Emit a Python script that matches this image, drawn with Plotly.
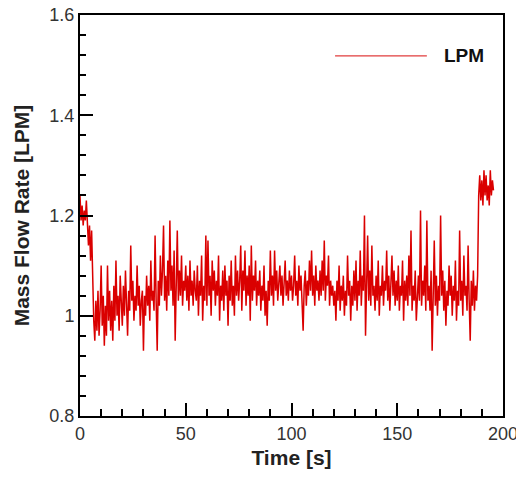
import plotly.graph_objects as go

t_step = 0.5  # sampling interval [s]

flow_lpm = [
    1.24, 1.19, 1.22, 1.18, 1.21, 1.19, 1.23, 1.17, 1.14, 1.18,
    1.11, 1.17, 1.07, 0.99, 0.95, 1.03, 0.97, 1.05, 0.96, 1.01,
    1.10, 0.98, 1.04, 0.94, 1.02, 0.96, 1.10, 0.99, 1.05, 0.97,
    1.03, 0.95, 1.06, 0.99, 1.11, 1.00, 1.04, 0.97, 1.08, 1.01,
    0.98, 1.06, 1.00, 1.09, 1.02, 0.96, 1.05, 1.01, 1.14, 1.03,
    1.07, 0.99, 1.04, 1.01, 1.10, 1.02, 1.06, 0.98, 1.03, 1.05,
    0.93, 1.04, 1.00, 1.08, 1.02, 1.06, 0.99, 1.11, 1.03, 1.05,
    1.01, 1.16, 1.03, 0.93, 1.07, 1.02, 1.12, 1.04, 1.09, 1.18,
    1.03, 1.08, 1.01, 1.11, 1.04, 1.19, 1.05, 1.10, 1.02, 1.13,
    0.95, 1.06, 1.17, 1.03, 1.09, 1.04, 1.12, 1.02, 1.07, 1.05,
    1.10, 1.03, 1.08, 1.01, 1.11, 1.04, 1.07, 1.02, 1.09, 1.05,
    1.03, 1.10, 1.00, 1.07, 1.04, 1.12, 0.99, 1.06, 1.03, 1.16,
    1.02, 1.15, 1.04, 1.08, 1.00, 1.11, 1.05, 1.09, 1.02, 1.07,
    1.04, 1.12, 0.99, 1.06, 1.03, 1.09, 1.01, 1.10, 1.04, 1.07,
    0.98, 1.08, 1.03, 1.11, 1.02, 1.06, 1.00, 1.12, 1.04, 1.09,
    1.03, 1.07, 1.14, 1.01, 1.09, 1.05, 1.13, 1.02, 1.08, 1.04,
    1.10, 0.99, 1.14, 1.03, 1.08, 1.05, 1.11, 1.02, 1.07, 1.04,
    1.09, 1.01, 1.06, 1.03, 1.10, 1.00, 1.05, 0.98, 1.07, 1.03,
    1.13, 1.04, 1.08, 1.02, 1.13, 1.05, 1.09, 1.03, 1.07, 1.10,
    1.04, 1.08, 1.02, 1.06, 1.11, 1.04, 1.07, 1.03, 1.09, 1.05,
    1.08, 1.03, 1.06, 1.12, 1.04, 1.07, 1.02, 1.10, 1.05, 1.08,
    1.03, 0.97, 1.06, 1.09, 1.02, 1.07, 1.04, 1.11, 1.05, 1.13,
    1.04, 1.08, 1.02, 1.10, 1.05, 1.07, 1.03, 1.09, 1.04, 1.11,
    1.05, 1.15, 1.03, 1.08, 1.06, 1.12, 1.02, 1.07, 1.04, 1.06,
    1.02, 1.05, 0.99, 1.07, 1.03, 1.10, 1.01, 1.06, 1.03, 1.08,
    1.00, 1.05, 1.02, 1.12, 1.04, 1.07, 0.99, 1.06, 1.02, 1.09,
    1.03, 1.11, 1.01, 1.07, 1.04, 1.13, 1.02, 1.08, 1.05, 1.20,
    0.96, 1.07, 1.16, 1.03, 1.09, 1.02, 1.14, 1.04, 1.06, 1.01,
    1.08, 1.03, 1.11, 1.00, 1.06, 1.04, 1.10, 1.02, 1.07, 1.05,
    1.13, 1.03, 1.08, 1.01, 1.06, 1.12, 1.04, 1.09, 1.02, 1.07,
    1.03, 1.10, 1.01, 1.06, 1.04, 1.11, 0.99, 1.07, 1.03, 1.08,
    1.02, 1.12, 1.04, 1.17, 1.01, 1.06, 1.03, 1.09, 0.99, 1.05,
    1.08, 1.03, 1.21, 1.02, 1.07, 1.04, 1.10, 1.01, 1.19, 1.03,
    1.06, 1.01, 1.09, 0.93, 1.05, 1.15, 1.02, 1.08, 1.00, 1.06,
    1.03, 1.20, 1.04, 1.09, 1.01, 1.07, 0.98, 1.05, 1.02, 1.10,
    1.04, 1.08, 1.00, 1.06, 1.03, 1.11, 0.99, 1.05, 1.02, 1.17,
    1.03, 1.07, 1.00, 1.12, 1.04, 1.06, 1.01, 1.14, 1.03, 0.95,
    1.07, 1.02, 1.09, 1.01, 1.06, 1.03, 1.08, 1.24, 1.28, 1.23,
    1.27, 1.22, 1.29, 1.24, 1.28, 1.23, 1.26, 1.22, 1.29, 1.24,
    1.27, 1.25,
]
time_s = [i * t_step for i in range(len(flow_lpm))]

x_ticks = [0, 50, 100, 150, 200]
y_ticks = [0.8, 1.0, 1.2, 1.4, 1.6]
y_tick_labels = ["0.8", "1", "1.2", "1.4", "1.6"]

RED = "rgb(218,0,0)"
FONT = "Liberation Sans, Arial, sans-serif"
TICK_FONT = dict(family=FONT, size=18, color="#333")
TITLE_FONT = dict(family=FONT, size=21, color="#222")

fig = go.Figure()
fig.add_trace(go.Scatter(x=time_s, y=flow_lpm, mode="lines", name="LPM",
                         line=dict(color=RED, width=1.5), showlegend=False))

fig.update_xaxes(
    range=[0, 200], tickmode="array", tickvals=x_ticks,
    showgrid=False, zeroline=False, showline=True, linecolor="black",
    linewidth=2, mirror=True, ticks="inside", tickcolor="black",
    tickwidth=1.8, ticklen=13, ticklabeloverflow="allow",
    tickfont=TICK_FONT,
    minor=dict(tickmode="linear", tick0=0, dtick=10, ticks="inside", ticklen=7,
               tickcolor="black", tickwidth=1.5, showgrid=False),
    title=dict(text="<b>Time [s]</b>", font=TITLE_FONT, standoff=8),
)
fig.update_yaxes(
    range=[0.8, 1.6], tickmode="array", tickvals=y_ticks, ticktext=y_tick_labels,
    showgrid=False, zeroline=False, showline=True, linecolor="black",
    linewidth=2, mirror=True, ticks="inside", tickcolor="black",
    tickwidth=1.8, ticklen=13, ticklabeloverflow="allow",
    tickfont=TICK_FONT,
    minor=dict(tickmode="linear", tick0=0.8, dtick=0.04, ticks="inside", ticklen=6,
               tickcolor="black", tickwidth=1.5, showgrid=False),
    title=dict(text="<b>Mass Flow Rate [LPM]</b>", font=TITLE_FONT, standoff=14),
)

fig.add_shape(type="line", xref="paper", yref="paper", x0=0.603, x1=0.820, y0=0.898, y1=0.898,
              line=dict(color="rgb(225,60,60)", width=1.4))
fig.add_annotation(xref="paper", yref="paper", x=0.856, y=0.898, xanchor="left", yanchor="middle",
                   text="<b>LPM</b>", showarrow=False, font=dict(family=FONT, size=19, color="#111"))

fig.update_layout(width=516, height=480, margin=dict(l=80, r=13, t=15, b=64),
                  plot_bgcolor="white", paper_bgcolor="white", template="none")

fig.write_html("out.html")
